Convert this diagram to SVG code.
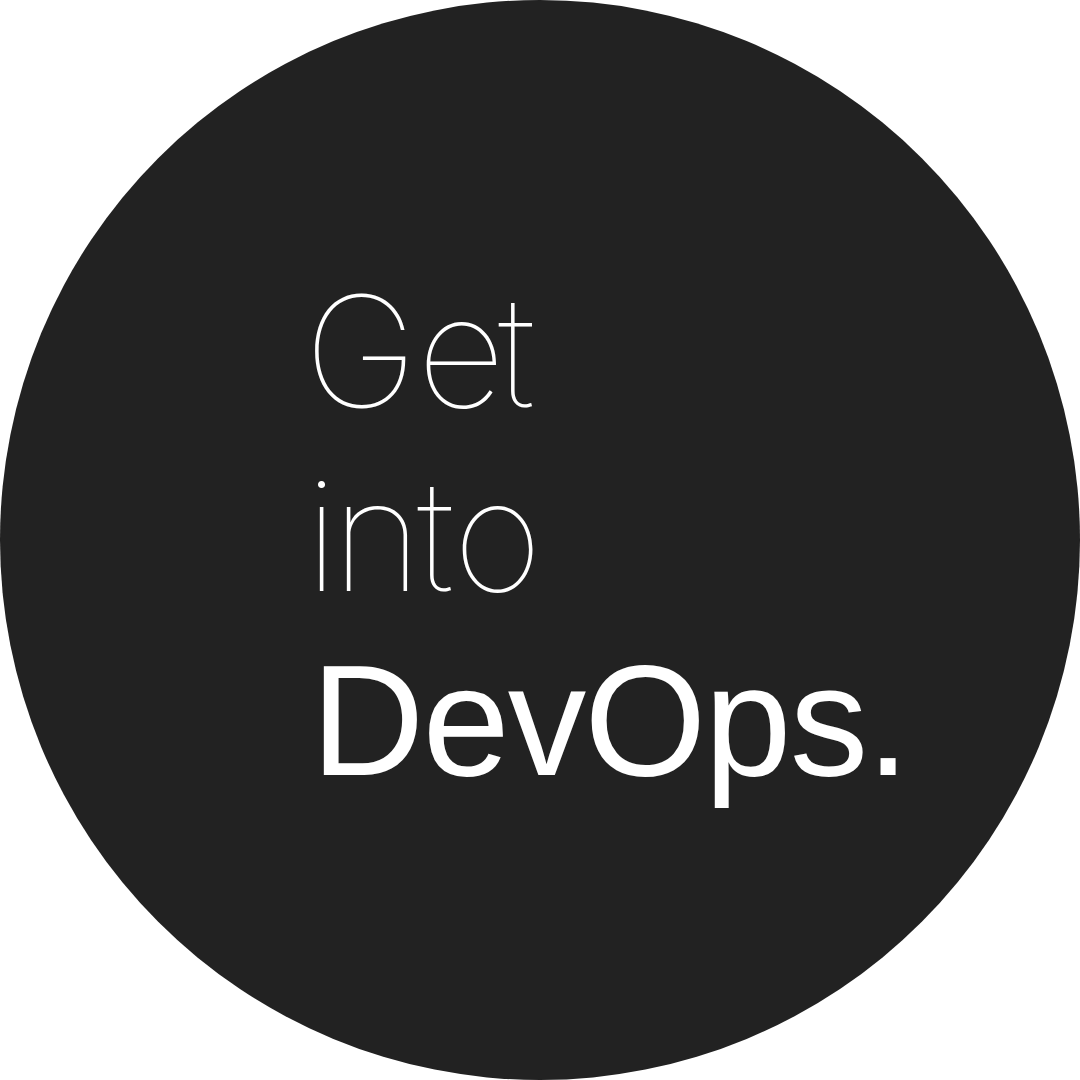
<svg xmlns="http://www.w3.org/2000/svg" width="1080" height="1080" viewBox="0 0 1080 1080">
<style>
.thin{font-family:Inter,"Roboto","Lato","Liberation Sans",sans-serif;font-weight:100;fill:#ffffff;font-size:154px;}
.bold{font-family:"Liberation Sans",Arial,sans-serif;font-weight:400;fill:#ffffff;font-size:157px;letter-spacing:-2px;}
</style>
<rect width="1080" height="1080" fill="#ffffff"/>
<circle cx="540" cy="540" r="540" fill="#222222"/>
<g id="line-get"><text class="thin" x="304 417 498" y="407">Get</text></g>
<g id="line-into"><text class="thin" x="305 332 417 453" y="591">into</text></g>
<g id="line-devops"><text class="bold" x="311" y="775">DevOps.</text></g>
</svg>
